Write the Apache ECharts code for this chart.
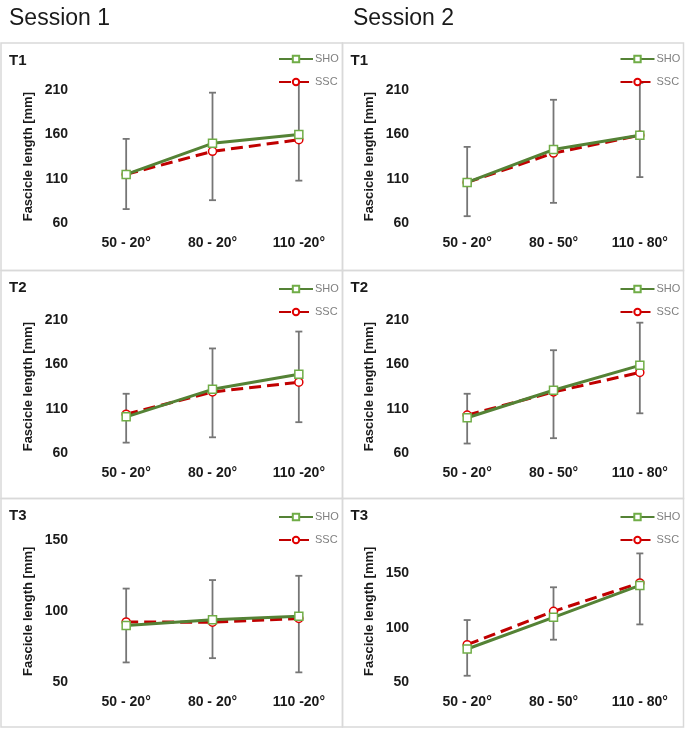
<!DOCTYPE html>
<html>
<head>
<meta charset="utf-8">
<script src="https://cdn.jsdelivr.net/npm/echarts@6/dist/echarts.min.js"></script>
<style>html,body{margin:0;padding:0;background:#fff;}#c{width:685px;height:731px;}</style>
</head>
<body>
<div id="c"></div>
<script>
// ---- data ----
const categoriesS1 = ['50 - 20°', '80 - 20°', '110 -20°'];
const categoriesS2 = ['50 - 20°', '80 - 50°', '110 - 80°'];
const ticksT12 = [60, 110, 160, 210];
const ticksT3 = [50, 100, 150];

const s1t1_SHO = [115, 150, 160];
const s1t1_SSC = [115, 141, 154];
const s1t1_errLow = [76, 86, 108];
const s1t1_errHigh = [155, 207, 219];

const s2t1_SHO = [106, 143, 159];
const s2t1_SSC = [106, 139, 159];
const s2t1_errLow = [68, 83, 112];
const s2t1_errHigh = [146, 199, 218];

const s1t2_SHO = [101, 132, 149];
const s1t2_SSC = [104, 129, 140];
const s1t2_errLow = [72, 78, 95];
const s1t2_errHigh = [127, 178, 197];

const s2t2_SHO = [100, 131, 159];
const s2t2_SSC = [103, 129, 151];
const s2t2_errLow = [71, 77, 105];
const s2t2_errHigh = [127, 176, 207];

const s1t3_SHO = [90, 94, 96.5];
const s1t3_SSC = [92.5, 92.3, 95];
const s1t3_errLow = [64, 67, 57];
const s1t3_errHigh = [116, 122, 125];

const s2t3_SHO = [80.5, 109.5, 138.7];
const s2t3_SSC = [84.4, 115, 141];
const s2t3_errLow = [56, 89, 103];
const s2t3_errHigh = [107, 137, 168];

// ---- layout ----
const FONT = '"Liberation Sans", Arial, sans-serif';
const panels = [
  {title: 'T1', cats: categoriesS1, sho: s1t1_SHO, ssc: s1t1_SSC, lo: s1t1_errLow, hi: s1t1_errHigh, ticks: ticksT12, min: 60, max: 210, col: 0, row: 0},
  {title: 'T1', cats: categoriesS2, sho: s2t1_SHO, ssc: s2t1_SSC, lo: s2t1_errLow, hi: s2t1_errHigh, ticks: ticksT12, min: 60, max: 210, col: 1, row: 0},
  {title: 'T2', cats: categoriesS1, sho: s1t2_SHO, ssc: s1t2_SSC, lo: s1t2_errLow, hi: s1t2_errHigh, ticks: ticksT12, min: 60, max: 210, col: 0, row: 1},
  {title: 'T2', cats: categoriesS2, sho: s2t2_SHO, ssc: s2t2_SSC, lo: s2t2_errLow, hi: s2t2_errHigh, ticks: ticksT12, min: 60, max: 210, col: 1, row: 1},
  {title: 'T3', cats: categoriesS1, sho: s1t3_SHO, ssc: s1t3_SSC, lo: s1t3_errLow, hi: s1t3_errHigh, ticks: ticksT3, min: 50, max: 150, col: 0, row: 2},
  {title: 'T3', cats: categoriesS2, sho: s2t3_SHO, ssc: s2t3_SSC, lo: s2t3_errLow, hi: s2t3_errHigh, ticks: ticksT3, min: 50, max: 180, col: 1, row: 2}
];
const colLeft = [83, 424];
const gridW = 259;
const rowTop = [90, 320, 540.3];
const rowH = [133.3, 133.3, 142];
const boxX = [1, 342.5];
const boxW = [341.5, 341];
const boxY = [43, 270.5, 498.5];
const boxH = [227.5, 228, 228.5];
const legendLeft = [278, 619.5];
const legendTop = [52.5, 282.5, 510.5];

const GREEN = '#548235', GREEN_M = '#70ad47', RED = '#c00000', RED_M = '#e00000', GREY = '#767676';

function renderErr(params, api) {
  const x = api.value(0), lo = api.value(1), hi = api.value(2);
  const p1 = api.coord([x, lo]), p2 = api.coord([x, hi]);
  const w = 3.5;
  const st = {stroke: GREY, lineWidth: 1.8};
  return {type: 'group', children: [
    {type: 'line', shape: {x1: p1[0], y1: p1[1], x2: p2[0], y2: p2[1]}, style: st},
    {type: 'line', shape: {x1: p1[0] - w, y1: p1[1], x2: p1[0] + w, y2: p1[1]}, style: st},
    {type: 'line', shape: {x1: p2[0] - w, y1: p2[1], x2: p2[0] + w, y2: p2[1]}, style: st}
  ]};
}

const grids = [], xAxes = [], yAxes = [], series = [], legends = [], titles = [], graphics = [];
panels.forEach((p, i) => {
  grids.push({left: colLeft[p.col], top: rowTop[p.row], width: gridW, height: rowH[p.row]});
  xAxes.push({type: 'category', gridIndex: i, data: p.cats,
    axisLine: {show: false}, axisTick: {show: false},
    axisLabel: {margin: 13, color: '#1a1a1a', fontFamily: FONT, fontWeight: 'bold', fontSize: 14}});
  const tk = p.ticks;
  yAxes.push({type: 'value', gridIndex: i, min: p.min, max: p.max, interval: 50,
    name: 'Fascicle length [mm]', nameLocation: 'middle', nameGap: 48,
    nameTextStyle: {color: '#1a1a1a', fontFamily: FONT, fontWeight: 'bold', fontSize: 13},
    axisLine: {show: false}, axisTick: {show: false}, splitLine: {show: false},
    axisLabel: {margin: 15, color: '#1a1a1a', fontFamily: FONT, fontWeight: 'bold', fontSize: 14,
      showMaxLabel: true,
      formatter: v => (tk.indexOf(v) >= 0 ? String(v) : '')}});
  series.push({type: 'custom', xAxisIndex: i, yAxisIndex: i, renderItem: renderErr, clip: false, z: 1,
    encode: {x: 0, y: [1, 2]}, silent: true,
    data: p.lo.map((v, k) => [k, v, p.hi[k]])});
  series.push({type: 'line', name: 'SHO', xAxisIndex: i, yAxisIndex: i, data: p.sho, z: 3,
    symbol: 'rect', symbolSize: 8, showAllSymbol: true,
    lineStyle: {color: GREEN, width: 3},
    itemStyle: {color: '#fff', borderColor: GREEN_M, borderWidth: 1.5}});
  series.push({type: 'line', name: 'SSC', xAxisIndex: i, yAxisIndex: i, data: p.ssc, z: 2,
    symbol: 'circle', symbolSize: 8, showAllSymbol: true,
    lineStyle: {color: RED, width: 3, type: [12, 6]},
    itemStyle: {color: '#fff', borderColor: RED_M, borderWidth: 1.5}});
  legends.push({data: ['SHO', 'SSC'], orient: 'vertical', left: legendLeft[p.col], top: legendTop[p.row],
    itemWidth: 34, itemHeight: 8, itemGap: 10, selectedMode: false, padding: 0,
    textStyle: {color: '#808080', fontFamily: FONT, fontSize: 11, lineHeight: 13, padding: [0, 0, 0, -3]}});
  titles.push({text: p.title, left: boxX[p.col] + 8, top: boxY[p.row] + 10, padding: 0,
    textStyle: {color: '#1a1a1a', fontFamily: FONT, fontWeight: 'bold', fontSize: 15}});
  graphics.push({type: 'rect', shape: {x: boxX[p.col], y: boxY[p.row], width: boxW[p.col], height: boxH[p.row]},
    style: {fill: 'none', stroke: '#d9d9d9', lineWidth: 1.5}, silent: true, z: -1});
});
titles.push({text: 'Session 1', left: 9, top: 7, padding: 0, textStyle: {color: '#1a1a1a', fontFamily: FONT, fontWeight: 'normal', fontSize: 23}});
titles.push({text: 'Session 2', left: 353, top: 7, padding: 0, textStyle: {color: '#1a1a1a', fontFamily: FONT, fontWeight: 'normal', fontSize: 23}});

const chart = echarts.init(document.getElementById('c'), null, {renderer: 'canvas'});
chart.setOption({
  animation: false,
  backgroundColor: '#fff',
  title: titles,
  grid: grids,
  xAxis: xAxes,
  yAxis: yAxes,
  legend: legends,
  graphic: graphics,
  series: series
});
</script>
</body>
</html>
